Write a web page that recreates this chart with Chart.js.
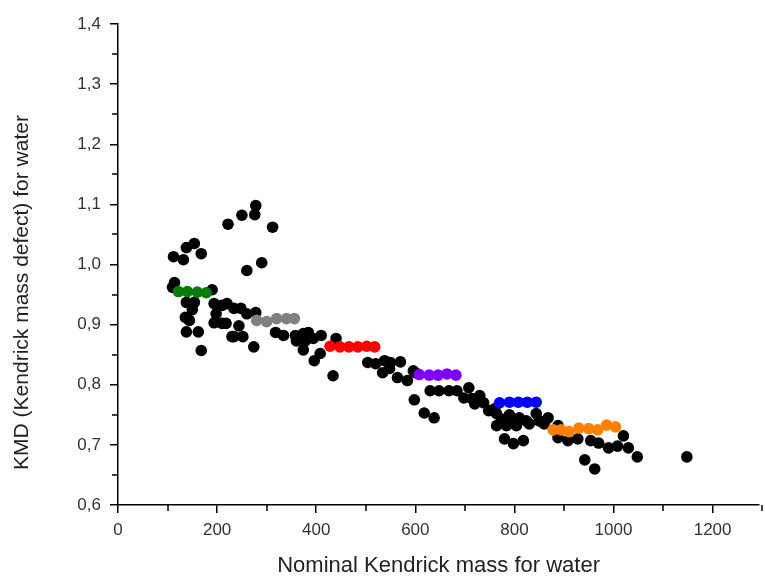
<!DOCTYPE html>
<html>
<head>
<meta charset="utf-8">
<script src="https://cdn.jsdelivr.net/npm/chart.js@4.4.1/dist/chart.umd.min.js"></script>
<style>
  html, body { margin: 0; padding: 0; background: #fff; }
  #wrap { width: 765px; height: 579px; }
</style>
</head>
<body>
<div id="wrap"><canvas id="kmd" width="765" height="579"></canvas></div>
<script>
// All assigned peaks (black), [nominal mass, KMD]
const allPeaks = [
  [110,0.962],[112,1.013],[114,0.970],[132,1.008],[138,1.028],[154,1.035],[168,1.018],
  [138,0.937],[154,0.937],[150,0.925],[136,0.912],[144,0.907],[138,0.888],[162,0.888],
  [168,0.857],[190,0.958],[194,0.935],[210,0.932],[220,0.935],[198,0.918],[194,0.903],
  [210,0.902],[218,0.902],[230,0.880],[222,1.067],
  [278,1.098],[276,1.083],[250,1.082],[312,1.062],[290,1.003],[260,0.990],[234,0.927],
  [248,0.927],[260,0.918],[278,0.920],[244,0.898],[234,0.880],[252,0.880],[274,0.863],
  [318,0.887],[334,0.882],[358,0.882],[374,0.885],[384,0.887],[410,0.882],[360,0.873],
  [378,0.873],[394,0.877],[374,0.858],[408,0.852],[396,0.840],[440,0.877],[434,0.815],
  [504,0.837],[520,0.835],[538,0.840],[550,0.837],[570,0.838],[534,0.820],[548,0.827],
  [564,0.812],[584,0.807],[600,0.820],[596,0.823],[598,0.775],[618,0.753],[638,0.745],
  [630,0.790],[648,0.790],[668,0.790],[684,0.790],[708,0.795],[698,0.778],[714,0.777],
  [730,0.782],[720,0.768],[738,0.770],[748,0.757],[764,0.752],[774,0.743],[764,0.732],
  [784,0.732],[804,0.732],[824,0.740],[844,0.752],[868,0.745],[800,0.740],[780,0.710],
  [798,0.702],[818,0.707],[760,0.760],[790,0.750],[810,0.745],[830,0.735],[850,0.740],
  [860,0.735],
  [888,0.732],[888,0.712],[908,0.707],[928,0.710],[954,0.707],[970,0.703],[990,0.695],
  [1008,0.698],[1020,0.715],[1030,0.695],[1048,0.680],[942,0.675],[962,0.660],[1148,0.680]
];

// Homologous water series, highlighted
const greenMass = [122, 140, 160, 178];
const greenKmd = [0.955, 0.955, 0.954, 0.953];
const grayMass = [280, 300, 320, 340, 356];
const grayKmd = [0.907, 0.905, 0.910, 0.910, 0.910];
const redMass = [428, 448, 466, 484, 502, 518];
const redKmd = [0.864, 0.863, 0.863, 0.863, 0.864, 0.863];
const purpleMass = [608, 628, 646, 664, 682];
const purpleKmd = [0.817, 0.816, 0.816, 0.818, 0.816];
const blueMass = [770, 790, 808, 826, 844];
const blueKmd = [0.770, 0.771, 0.771, 0.771, 0.771];
const orangeMass = [878, 894, 910, 930, 950, 968, 986, 1004];
const orangeKmd = [0.725, 0.725, 0.722, 0.728, 0.727, 0.725, 0.733, 0.730];

const xTicks = [0, 200, 400, 600, 800, 1000, 1200];
const yTicks = [0.6, 0.7, 0.8, 0.9, 1.0, 1.1, 1.2, 1.3, 1.4];

const yTitle = "KMD (Kendrick mass defect) for water";
const FONT = "'Liberation Sans', Arial, sans-serif";

const pairs = (xs, ys) => xs.map((x, i) => ({ x: x, y: ys[i] }));

const series = (data, color) => ({
  data: data,
  backgroundColor: color,
  borderColor: color,
  borderWidth: 0,
  pointRadius: 5.8,
  pointHoverRadius: 5.8
});

// small unlabeled ticks halfway between the major ones
const minorTicks = {
  id: "minorTicks",
  afterDraw(chart) {
    const ctx = chart.ctx;
    const xs = chart.scales.x, ys = chart.scales.y;
    ctx.save();
    ctx.strokeStyle = "#000";
    ctx.lineWidth = 1.5;
    ctx.beginPath();
    for (let v = 100; v <= 1300; v += 200) {
      const px = Math.round(xs.getPixelForValue(v));
      ctx.moveTo(px, xs.top);
      ctx.lineTo(px, xs.top + 6);
    }
    for (let v = 0.65; v < 1.4; v += 0.1) {
      const py = Math.round(ys.getPixelForValue(v));
      ctx.moveTo(ys.right, py);
      ctx.lineTo(ys.right - 6, py);
    }
    ctx.stroke();
    ctx.restore();
  }
};

// y title sits a bit below the middle of the axis, so draw it by hand
const yAxisTitle = {
  id: "yAxisTitle",
  afterDraw(chart) {
    const ctx = chart.ctx;
    const area = chart.chartArea;
    ctx.save();
    ctx.translate(22, (area.top + area.bottom) / 2 + 28);
    ctx.rotate(-Math.PI / 2);
    ctx.font = "21px " + FONT;
    ctx.fillStyle = "#222";
    ctx.textAlign = "center";
    ctx.textBaseline = "middle";
    ctx.fillText(yTitle, 0, 0);
    ctx.restore();
  }
};

new Chart(document.getElementById("kmd"), {
  type: "scatter",
  data: {
    datasets: [
      series(pairs(greenMass, greenKmd), "#0a7a0a"),
      series(pairs(grayMass, grayKmd), "#808080"),
      series(pairs(redMass, redKmd), "#ff0000"),
      series(pairs(purpleMass, purpleKmd), "#7f00ff"),
      series(pairs(blueMass, blueKmd), "#0000ff"),
      series(pairs(orangeMass, orangeKmd), "#ff8000"),
      series(allPeaks.map(p => ({ x: p[0], y: p[1] })), "#000000")
    ]
  },
  options: {
    responsive: false,
    animation: false,
    layout: { padding: { top: 24, right: 0, left: 0, bottom: 0 } },
    plugins: { legend: { display: false }, tooltip: { enabled: false } },
    scales: {
      x: {
        type: "linear",
        min: 0,
        max: 1294,
        afterBuildTicks: (s) => { s.ticks = xTicks.map(v => ({ value: v })); },
        afterFit: (s) => { s.height = 74; },
        border: { display: true, color: "#000", width: 1.5 },
        grid: { drawOnChartArea: false, drawTicks: true, tickLength: 8, color: "#000", lineWidth: 1.5 },
        ticks: {
          color: "#333",
          padding: 7,
          maxRotation: 0,
          font: { family: FONT, size: 17 },
          callback: (v) => String(v)
        },
        title: {
          display: true,
          text: "Nominal Kendrick mass for water",
          color: "#222",
          padding: { top: 8, bottom: 0 },
          font: { family: FONT, size: 22 }
        }
      },
      y: {
        type: "linear",
        min: 0.6,
        max: 1.4,
        afterBuildTicks: (s) => { s.ticks = yTicks.map(v => ({ value: v })); },
        afterFit: (s) => { s.width = 118; },
        border: { display: true, color: "#000", width: 1.5 },
        grid: { drawOnChartArea: false, drawTicks: true, tickLength: 8, color: "#000", lineWidth: 1.5 },
        ticks: {
          color: "#333",
          padding: 9,
          font: { family: FONT, size: 17 },
          callback: (v) => v.toFixed(1).replace(".", ",")
        },
        title: { display: false }
      }
    }
  },
  plugins: [minorTicks, yAxisTitle]
});
</script>
</body>
</html>
